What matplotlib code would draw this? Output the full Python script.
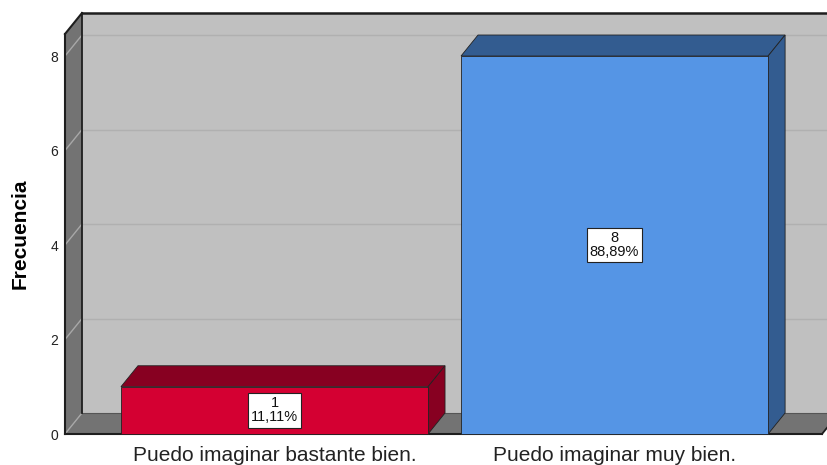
import matplotlib
matplotlib.use('Agg')
import matplotlib.pyplot as plt
from matplotlib.patches import Polygon
from matplotlib.lines import Line2D
from matplotlib.transforms import IdentityTransform

categories = ['Puedo imaginar bastante bien.', 'Puedo imaginar muy bien.']
counts = [1, 8]
percents = ['11,11%', '88,89%']
yticks = [0, 2, 4, 6, 8]

front_colors = ['#D40032', '#5595E5']
dark_colors = ['#870021', '#335C90']

plt.rcParams['font.family'] = ['Liberation Sans', 'DejaVu Sans']

fig = plt.figure(figsize=(8.28, 4.65), dpi=100)
ax = fig.add_axes([65 / 828, 31 / 465, 757 / 828, 400 / 465])
x0, x1 = -0.616, 1.610
ymax = 8.466
ax.set_xlim(x0, x1)
ax.set_ylim(0, ymax)
for s in ax.spines.values():
    s.set_visible(False)
ax.patch.set_visible(False)

# depth offset of the 3d box, in pixels
DX, DY = 17, 21


def pts(seq):
    out = []
    for x, y, d in seq:
        px, py = ax.transData.transform((x, y))
        out.append((px + d * DX, py + d * DY))
    return out


def face(seq, color, ec='none', lw=0, z=1):
    p = Polygon(pts(seq), closed=True, transform=IdentityTransform(),
                facecolor=color, edgecolor=ec, linewidth=lw, zorder=z,
                clip_on=False)
    ax.add_artist(p)


def line(a, b, color, lw, z=2):
    (xa, ya), (xb, yb) = pts([a, b])
    ln = Line2D([xa, xb], [ya, yb], transform=IdentityTransform(),
                color=color, linewidth=lw, zorder=z, clip_on=False,
                solid_capstyle='projecting')
    ax.add_artist(ln)


xr = x1 + 0.2
# walls and floor
face([(x0, 0, 1), (xr, 0, 1), (xr, ymax, 1), (x0, ymax, 1)], '#C0C0C0')
face([(x0, 0, 0), (x0, 0, 1), (x0, ymax, 1), (x0, ymax, 0)], '#737373')
face([(x0, 0, 0), (x1, 0, 0), (x1, 0, 1), (x0, 0, 1)], '#737373')

# grid
for t in yticks:
    if t > 0:
        line((x0, t, 1), (xr, t, 1), '#B0B0B0', 1.0, z=1.5)
    line((x0, t, 0), (x0, t, 1), '#A8A8A8', 1.0, z=1.5)
line((x0, 0, 1), (xr, 0, 1), '#555555', 0.8, z=1.5)

# frame edges
ec = '#1E1E1E'
line((x0, 0, 0), (x0, ymax, 0), ec, 1.5)
line((x0, ymax, 0), (x0, ymax, 1), ec, 1.5)
line((x0, ymax, 1), (xr, ymax, 1), ec, 1.8)
line((x0, 0, 1), (x0, ymax, 1), ec, 1.3)
line((x0, 0, 0), (x1, 0, 0), ec, 1.5)
line((x1, 0, 0), (x1, 0, 1), ec, 1.3)

# bars
hw = 0.4515
for i, v in enumerate(counts):
    l, r = i - hw, i + hw
    face([(l, v, 0), (r, v, 0), (r, v, 1), (l, v, 1)], dark_colors[i], '#222222', 0.6, z=3)
    face([(r, 0, 0), (r, v, 0), (r, v, 1), (r, 0, 1)], dark_colors[i], '#222222', 0.6, z=3)
    face([(l, 0, 0), (r, 0, 0), (r, v, 0), (l, v, 0)], front_colors[i], '#222222', 0.6, z=3.1)
    ax.text(i, v / 2, f'{v}\n{percents[i]}', ha='center', va='center',
            fontsize=10.5, linespacing=1.0, color='#111111', zorder=5,
            bbox=dict(boxstyle='square,pad=0.22', fc='white', ec='#222222', lw=0.8))

ax.set_yticks(yticks)
ax.tick_params(axis='y', length=0, pad=5, labelsize=10, labelcolor='#222222')
ax.set_xticks(range(len(categories)), categories)
ax.tick_params(axis='x', length=0, pad=8.5, labelsize=15, labelcolor='#222222')

fig.text(20 / 828, 1 - 234 / 465, 'Frecuencia', rotation=90, fontsize=15,
         fontweight='bold', ha='center', va='center')

fig.savefig('out.png', dpi=100)
